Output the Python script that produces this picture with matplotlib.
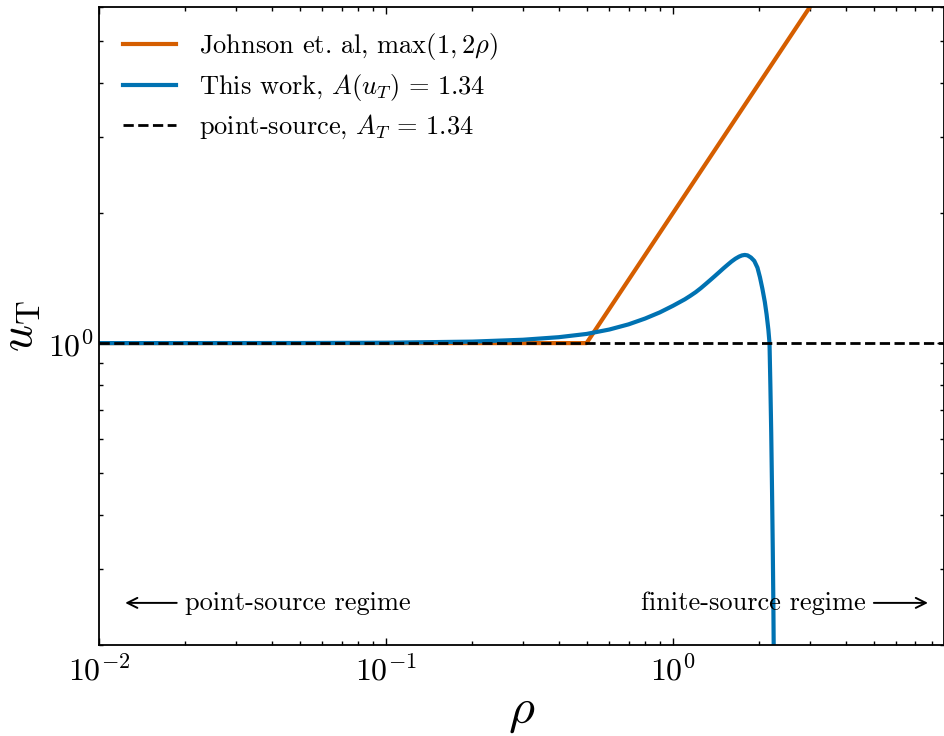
import numpy as np
import matplotlib
matplotlib.use("Agg")
import matplotlib.pyplot as plt
from matplotlib.ticker import NullFormatter

plt.rcParams['font.family'] = 'serif'
plt.rcParams['font.serif'] = ['cmr10', 'DejaVu Serif']
plt.rcParams['mathtext.fontset'] = 'cm'
plt.rcParams['axes.formatter.use_mathtext'] = True
plt.rcParams['axes.unicode_minus'] = False

# Johnson et al. threshold: max(1, 2 rho)
johnson_rho = [0.01, 0.5, 3.0]
johnson_u = [1.0, 1.0, 6.0]

# This work, A(u_T) = 1.34
work_rho = [0.01, 0.05, 0.1, 0.2, 0.3, 0.4, 0.5, 0.6, 0.7, 0.8, 0.9, 1.0,
            1.1, 1.15, 1.2, 1.25, 1.3, 1.35, 1.4, 1.45, 1.5, 1.55, 1.6,
            1.65, 1.7, 1.74, 1.78, 1.82, 1.87, 1.92, 1.97, 2.01, 2.05,
            2.09, 2.12, 2.15, 2.17, 2.185, 2.2, 2.215, 2.228, 2.238, 2.244]
work_u = [1.0, 1.0005, 1.002, 1.008, 1.018, 1.032, 1.05, 1.075, 1.105,
          1.14, 1.178, 1.22, 1.263, 1.287, 1.312, 1.34, 1.37, 1.40, 1.43,
          1.46, 1.49, 1.518, 1.545, 1.568, 1.586, 1.596, 1.60, 1.596,
          1.578, 1.55, 1.495, 1.42, 1.335, 1.245, 1.165, 1.075, 1.0, 0.8,
          0.62, 0.45, 0.33, 0.25, 0.2]

# point-source threshold
ps_u = 1.0

xlim = (0.01, 8.8)
ylim = (0.2, 6.0)

fig = plt.figure(figsize=(9.45, 7.36), dpi=100)
ax = fig.add_axes([99/945, 1-645/736, (944-99)/945, (645-7)/736])

ax.plot(johnson_rho, johnson_u, color='#D55E00', lw=3,
        label=r'Johnson et. al, $\max(1, 2\rho)$')
ax.plot(work_rho, work_u, color='#0072B2', lw=3,
        label=r'This work, $A(u_T)\,=\,1.34$')
ax.plot(xlim, [ps_u, ps_u], color='black', lw=2, ls='--',
        label=r'point-source, $A_T\,=\,1.34$')

ax.set_xscale('log')
ax.set_yscale('log')
ax.set_xlim(*xlim)
ax.set_ylim(*ylim)
ax.yaxis.set_minor_formatter(NullFormatter())

ax.tick_params(which='both', direction='in', top=True, right=True,
               labelsize=23, width=1)
ax.tick_params(axis='x', which='major', pad=7)
ax.tick_params(which='major', length=5)
ax.tick_params(which='minor', length=3)
for s in ax.spines.values():
    s.set_linewidth(1.3)

ax.set_xlabel(r'$\rho$', fontsize=36, labelpad=2)
ax.set_ylabel(r'$u_{\rm T}$', fontsize=34, labelpad=4)

leg = ax.legend(loc='upper left', frameon=False, fontsize=19,
                handlelength=2.0, borderaxespad=0.5, labelspacing=0.38,
                handletextpad=0.9)

# regime annotations (axes-fraction placement)
ya = 0.066
ax.annotate('', xy=(0.031, ya), xytext=(0.092, ya), xycoords='axes fraction',
            arrowprops=dict(arrowstyle='->', lw=1.4, color='black',
                            shrinkA=0, shrinkB=0,
                            mutation_scale=18))
ax.text(0.102, ya, 'point-source regime', transform=ax.transAxes,
        fontsize=19, va='center', ha='left')
ax.annotate('', xy=(0.981, ya), xytext=(0.917, ya), xycoords='axes fraction',
            arrowprops=dict(arrowstyle='->', lw=1.4, color='black',
                            shrinkA=0, shrinkB=0,
                            mutation_scale=18))
ax.text(0.907, ya, 'finite-source regime', transform=ax.transAxes,
        fontsize=19, va='center', ha='right')

fig.savefig('out.png', dpi=100)
